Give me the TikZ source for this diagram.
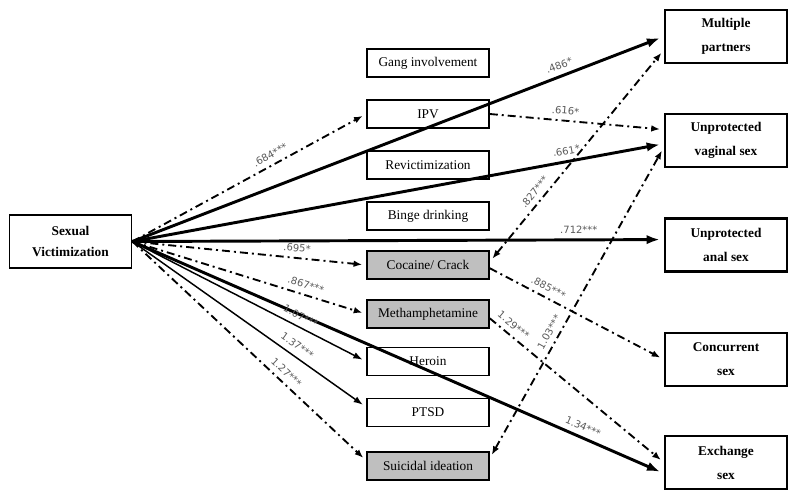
\documentclass[tikz,border=0pt]{standalone}
\usepackage{fontspec}
\setmainfont{Liberation Serif}
\newfontfamily\coeffont{DejaVu Sans}
\usetikzlibrary{arrows.meta}

\begin{document}
\begin{tikzpicture}[
    x=0.75pt, y=-0.75pt,
    box/.style={draw=black,line width=1.2pt,minimum width=91.5pt,
      minimum height=21pt,inner sep=0pt,font=\fontsize{10}{12}\selectfont},
    mediator/.style={box,fill=white},
    shaded/.style={box,fill=black!25},
    outcome/.style={draw=black,line width=1.6pt,minimum width=91.5pt,
      minimum height=39.75pt,inner sep=0pt,align=center,
      font=\bfseries\fontsize{10}{18}\selectfont},
    predictor/.style={outcome,line width=1.4pt,
      font=\bfseries\fontsize{10}{16}\selectfont},
    effect/.style={shorten >=3pt},
    strong/.style={effect,line width=2.2pt,-{Latex[length=10pt,width=7pt]}},
    weak/.style={effect,line width=1.1pt,-{Latex[length=7pt,width=5pt]}},
    dashdot/.style={effect,line width=1.4pt,-{Latex[length=6.5pt,width=5pt]},
      dash pattern=on 6pt off 3pt on 1.5pt off 3pt},
    both/.style={dashdot,{Latex[length=6.5pt,width=5pt]}-{Latex[length=6.5pt,width=5pt]},
      shorten <=3pt},
    coef/.style={sloped,above=3pt,inner sep=1pt,text=black!65,
      font=\coeffont\fontsize{7.5}{9}\selectfont},
  ]
  \useasboundingbox (0,0) rectangle (800,499);

  % Predictor
  \node[predictor] (SV) at (70.5,241.5) {Sexual\\Victimization};

  % Mediators
  \foreach \name/\y/\kind/\txt in {gang/63/mediator/Gang involvement,
      ipv/114/mediator/IPV, rev/165/mediator/Revictimization,
      binge/216/mediator/Binge drinking, coc/265/shaded/{Cocaine/ Crack},
      meth/314/shaded/Methamphetamine, her/361.5/mediator/Heroin,
      ptsd/412.5/mediator/PTSD, sui/466/shaded/Suicidal ideation}
    \node[\kind] (\name) at (428,\y) {\txt};

  % Outcomes
  \foreach \name/\y/\txt in {mp/36.5/{Multiple\\partners},
      uvs/140.5/{Unprotected\\vaginal sex}, uas/245/{Unprotected\\anal sex},
      con/359.5/{Concurrent\\sex}, ex/462.5/{Exchange\\sex}}
    \node[outcome] (\name) at (726,\y) {\txt};

  % Direct effects
  \foreach \to/\p/\lab in {mp.west/.81/.486*, uvs.183/.82/.661*,
      uas.175/.84/.712***, ex.190/.84/1.34***}
    \draw[strong] (SV.east) -- node[coef,pos=\p] {\lab} (\to);

  % Predictor to mediators
  \foreach \to/\p/\lab in {ipv.west/.61/.684***, coc.west/.7/.695*,
      meth.west/.73/.867***, sui.175/.63/1.27***}
    \draw[dashdot] (SV.east) -- node[coef,pos=\p] {\lab} (\to);
  \foreach \to/\p/\lab in {her.west/.7/1.07***, ptsd.175/.68/1.37***}
    \draw[weak] (SV.east) -- node[coef,pos=\p,above=0.5pt] {\lab} (\to);

  % Mediators to outcomes
  \foreach \from/\to/\p/\lab in {ipv.east/uvs.170/.43/.616*,
      coc.357/con.west/.31/.885***, meth.356/ex.west/.1/1.29***}
    \draw[dashdot] (\from) -- node[coef,pos=\p] {\lab} (\to);
  \foreach \from/\to/\p/\lab in {coc.3/mp.192/.3/.827***,
      sui.7/uvs.186/.39/1.03***}
    \draw[both] (\from) -- node[coef,pos=\p] {\lab} (\to);
\end{tikzpicture}
\end{document}
